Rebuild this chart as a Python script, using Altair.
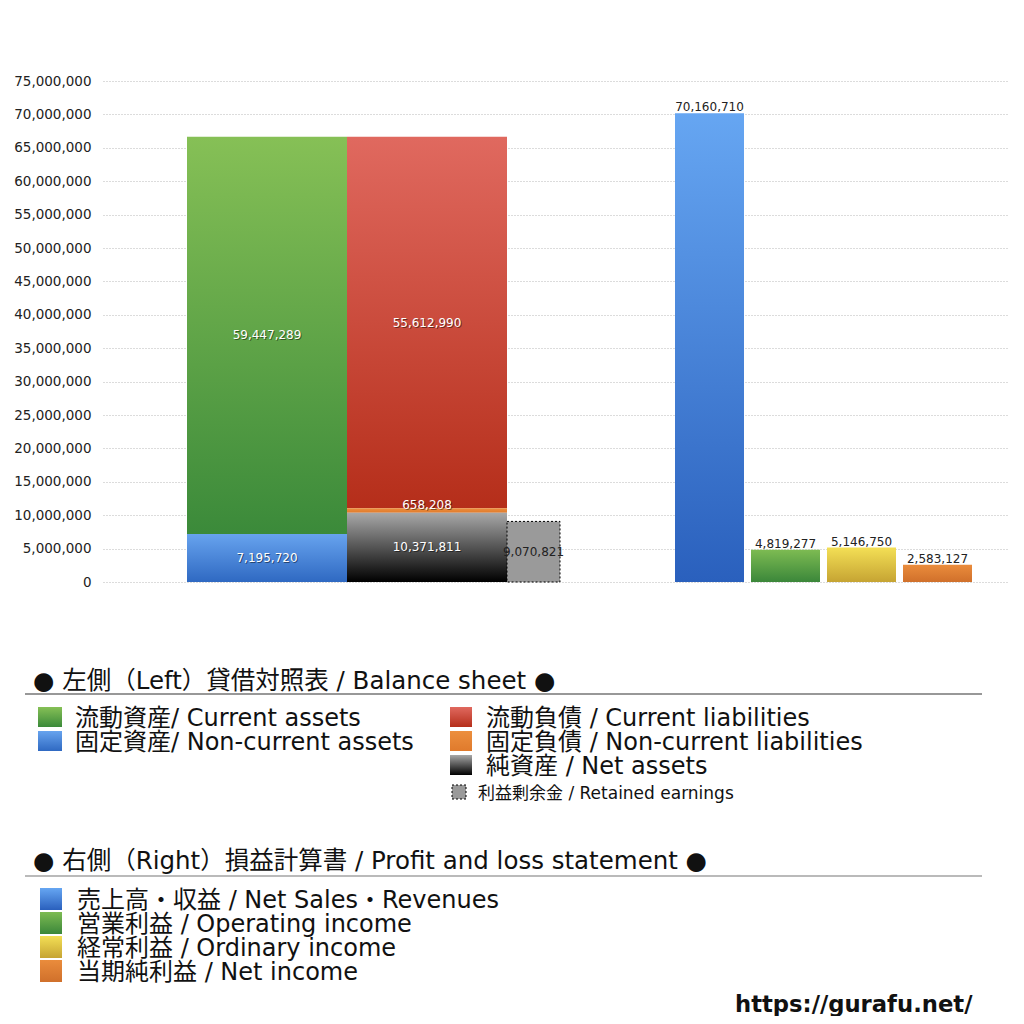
import altair as alt
import pandas as pd

# ---------------- data ----------------
bs_keys = ["current_assets", "noncurrent_assets", "current_liab", "noncurrent_liab", "net_assets", "retained"]
bs_values = [59447289, 7195720, 55612990, 658208, 10371811, 9070821]
bs_group = ["assets", "assets", "liab", "liab", "liab", "retained"]
# stacking order inside a group (0 = bottom)
bs_order = [1, 0, 2, 1, 0, 0]

pl_keys = ["sales", "operating", "ordinary", "net_income"]
pl_values = [70160710, 4819277, 5146750, 2583127]

y_ticks = [0, 5000000, 10000000, 15000000, 20000000, 25000000, 30000000, 35000000,
           40000000, 45000000, 50000000, 55000000, 60000000, 65000000, 70000000, 75000000]

bs_legend_left = ["流動資産/ Current assets", "固定資産/ Non-current assets"]
bs_legend_right = ["流動負債 /  Current liabilities", "固定負債 / Non-current liabilities", "純資産 / Net assets"]
retained_label = "利益剰余金 / Retained earnings"
pl_legend = ["売上高・収益 / Net Sales・Revenues", "営業利益 / Operating income",
             "経常利益 / Ordinary income", "当期純利益 / Net income"]
title_bs = "● 左側（Left）貸借対照表 / Balance sheet ●"
title_pl = "● 右側（Right）損益計算書 / Profit and loss statement ●"
url_text = "https://gurafu.net/"

# ---------------- layout (plot-area pixel units on a hidden x scale) ----------------
W, H = 904, 501
slot = {"assets": (84, 244), "liab": (244, 404), "retained": (404, 457)}
pl_slots = [(572, 641), (648, 717), (724, 793), (800, 869)]

def grad(top, bottom):
    return alt.Gradient(gradient="linear",
                        stops=[alt.GradientStop(color=top, offset=0),
                               alt.GradientStop(color=bottom, offset=1)],
                        x1=0, x2=0, y1=0, y2=1)

style = {
    "current_assets": grad("#86c056", "#3b8a3a"),
    "noncurrent_assets": grad("#67a3ee", "#2f69c2"),
    "current_liab": grad("#e0695f", "#b52e1a"),
    "noncurrent_liab": grad("#ec8f3e", "#e07a2c"),
    "net_assets": grad("#a8a8a8", "#000000"),
    "retained": "#9a9a9a",
    "sales": grad("#66a6f2", "#2a60bd"),
    "operating": grad("#7dbb52", "#3b873a"),
    "ordinary": grad("#f3df55", "#c6a433"),
    "net_income": grad("#ea8c3c", "#d0702b"),
}

# ---------------- build table ----------------
rows = []
for k, v, g, o in zip(bs_keys, bs_values, bs_group, bs_order):
    rows.append(dict(key=k, value=v, group=g, order=o))
df = pd.DataFrame(rows)
df = df.sort_values(["group", "order"])
df["y1"] = df.groupby("group")["value"].cumsum()
df["y0"] = df["y1"] - df["value"]
df["x0"] = df["group"].map(lambda g: slot[g][0])
df["x1"] = df["group"].map(lambda g: slot[g][1])
df = df.sort_index()

pl = pd.DataFrame(dict(key=pl_keys, value=pl_values))
pl["y0"] = 0
pl["y1"] = pl["value"]
pl["x0"] = [s[0] for s in pl_slots]
pl["x1"] = [s[1] for s in pl_slots]

allbars = pd.concat([df[["key", "value", "x0", "x1", "y0", "y1"]], pl], ignore_index=True)
allbars["label"] = allbars["value"].map(lambda v: f"{v:,}")
allbars["xm"] = (allbars["x0"] + allbars["x1"]) / 2
allbars["ym"] = (allbars["y0"] + allbars["y1"]) / 2

FONT = "DejaVu Sans, Noto Sans CJK JP"
LFONT = "DejaVu Sans, Noto Sans CJK JP"

xs = alt.Scale(domain=[0, W])
ys = alt.Scale(domain=[0, 75000000])
yaxis = alt.Axis(values=y_ticks, format=",d", grid=True, gridDash=[1, 2], gridColor="#b8b8b8",
                 domain=False, ticks=False, labelFontSize=13.5, labelColor="#222", labelPadding=12,
                 labelFont=FONT, title=None)

base = alt.Chart(allbars)

layers = []
# axis/grid carrier (invisible)
layers.append(base.mark_bar(opacity=0).encode(
    x=alt.X("x0:Q", scale=xs, axis=None), x2="x1:Q",
    y=alt.Y("y0:Q", scale=ys, axis=yaxis), y2="y1:Q"))

for k in bs_keys + pl_keys:
    if k == "retained":
        mk = base.mark_bar(color=style[k], stroke="#000", strokeDash=[2, 2], strokeWidth=1)
    else:
        mk = base.mark_bar(color=style[k])
    layers.append(mk.transform_filter(alt.datum.key == k).encode(
        x=alt.X("x0:Q", scale=xs, axis=None), x2="x1:Q",
        y=alt.Y("y0:Q", scale=ys, axis=yaxis), y2="y1:Q"))

# labels inside left bars (white with shadow)
inside = ["current_assets", "noncurrent_assets", "current_liab", "net_assets"]
for col, dx, dy, op in [("#000", 1, 1, 0.45), ("#fff", 0, 0, 1)]:
    layers.append(base.mark_text(font=FONT, fontSize=12, color=col, dx=dx, dy=dy, opacity=op)
                  .transform_filter(alt.FieldOneOfPredicate(field="key", oneOf=inside))
                  .encode(x=alt.X("xm:Q", scale=xs, axis=None), y=alt.Y("ym:Q", scale=ys, axis=yaxis),
                          text="label:N"))
    layers.append(base.mark_text(font=FONT, fontSize=12, color=col, baseline="bottom", dx=dx, dy=dy + 4, opacity=op)
                  .transform_filter(alt.datum.key == "noncurrent_liab")
                  .encode(x=alt.X("xm:Q", scale=xs, axis=None), y=alt.Y("y1:Q", scale=ys, axis=yaxis),
                          text="label:N"))
layers.append(base.mark_text(font=FONT, fontSize=12, color="#222")
              .transform_filter(alt.datum.key == "retained")
              .encode(x=alt.X("xm:Q", scale=xs, axis=None), y=alt.Y("ym:Q", scale=ys, axis=yaxis),
                      text="label:N"))
layers.append(base.mark_text(font=FONT, fontSize=12, color="#222", baseline="bottom", dy=1)
              .transform_filter(alt.FieldOneOfPredicate(field="key", oneOf=pl_keys))
              .encode(x=alt.X("xm:Q", scale=xs, axis=None), y=alt.Y("y1:Q", scale=ys, axis=yaxis),
                      text="label:N"))

# ---------------- legend block (below plot, pixel positions relative to plot origin) ----------------
dummy = pd.DataFrame({"a": [0]})
OX, OY = 103, 81  # plot origin in page coords
TY = 1.5  # small vertical nudge of legend texts

def T(text, px, py, size, weight="normal", font=LFONT):
    return alt.Chart(dummy).mark_text(text=text, font=font, fontSize=size, fontWeight=weight,
                                      align="left", baseline="middle", color="#111").encode(
        x=alt.value(px - OX), y=alt.value(py - OY + TY))

def R(px0, px1, py, color="#333", w=1.2):
    return alt.Chart(dummy).mark_rule(color=color, strokeWidth=w).encode(
        x=alt.value(px0 - OX), x2=alt.value(px1 - OX), y=alt.value(py - OY))

def SQ(px0, py0, px1, py1, color, dashed=False):
    kw = dict(color=color)
    if dashed:
        kw.update(stroke="#000", strokeDash=[2, 2], strokeWidth=1)
    return alt.Chart(dummy).mark_rect(**kw).encode(
        x=alt.value(px0 - OX), x2=alt.value(px1 - OX), y=alt.value(py0 - OY), y2=alt.value(py1 - OY))

FS = 24
HS = 24.5
leg = []
leg.append(T(title_bs, 33, 680, HS))
leg.append(R(25, 982, 694))
for i, (t, k) in enumerate(zip(bs_legend_left, ["current_assets", "noncurrent_assets"])):
    cy = 717 + 24 * i
    leg.append(SQ(38, cy - 10, 62, cy + 10, style[k]))
    leg.append(T(t, 75, cy, FS))
for i, (t, k) in enumerate(zip(bs_legend_right, ["current_liab", "noncurrent_liab", "net_assets"])):
    cy = 717 + 24 * i
    leg.append(SQ(450, cy - 10, 472, cy + 10, style[k]))
    leg.append(T(t, 486, cy, FS))
leg.append(SQ(452, 785, 466, 799, style["retained"], dashed=True))
leg.append(T(retained_label, 478, 792, 17))

leg.append(T(title_pl, 33, 860, HS))
leg.append(R(25, 982, 876, color="#777"))
for i, (t, k) in enumerate(zip(pl_legend, pl_keys)):
    cy = 899 + 24 * i
    leg.append(SQ(40, cy - 11, 62, cy + 11, style[k]))
    leg.append(T(t, 77, cy, FS))
leg.append(T(url_text, 735, 1003, 22.7, weight="bold", font="DejaVu Sans"))

chart = alt.layer(*layers, *leg).properties(
    width=W, height=H,
    autosize=alt.AutoSizeParams(type="none"),
    padding={"left": 95, "top": 73, "right": 9, "bottom": 434},
).configure_view(stroke=None).configure_axis(labelFont=FONT)

chart.save("out.html", embed_options={"renderer": "svg", "actions": False})
